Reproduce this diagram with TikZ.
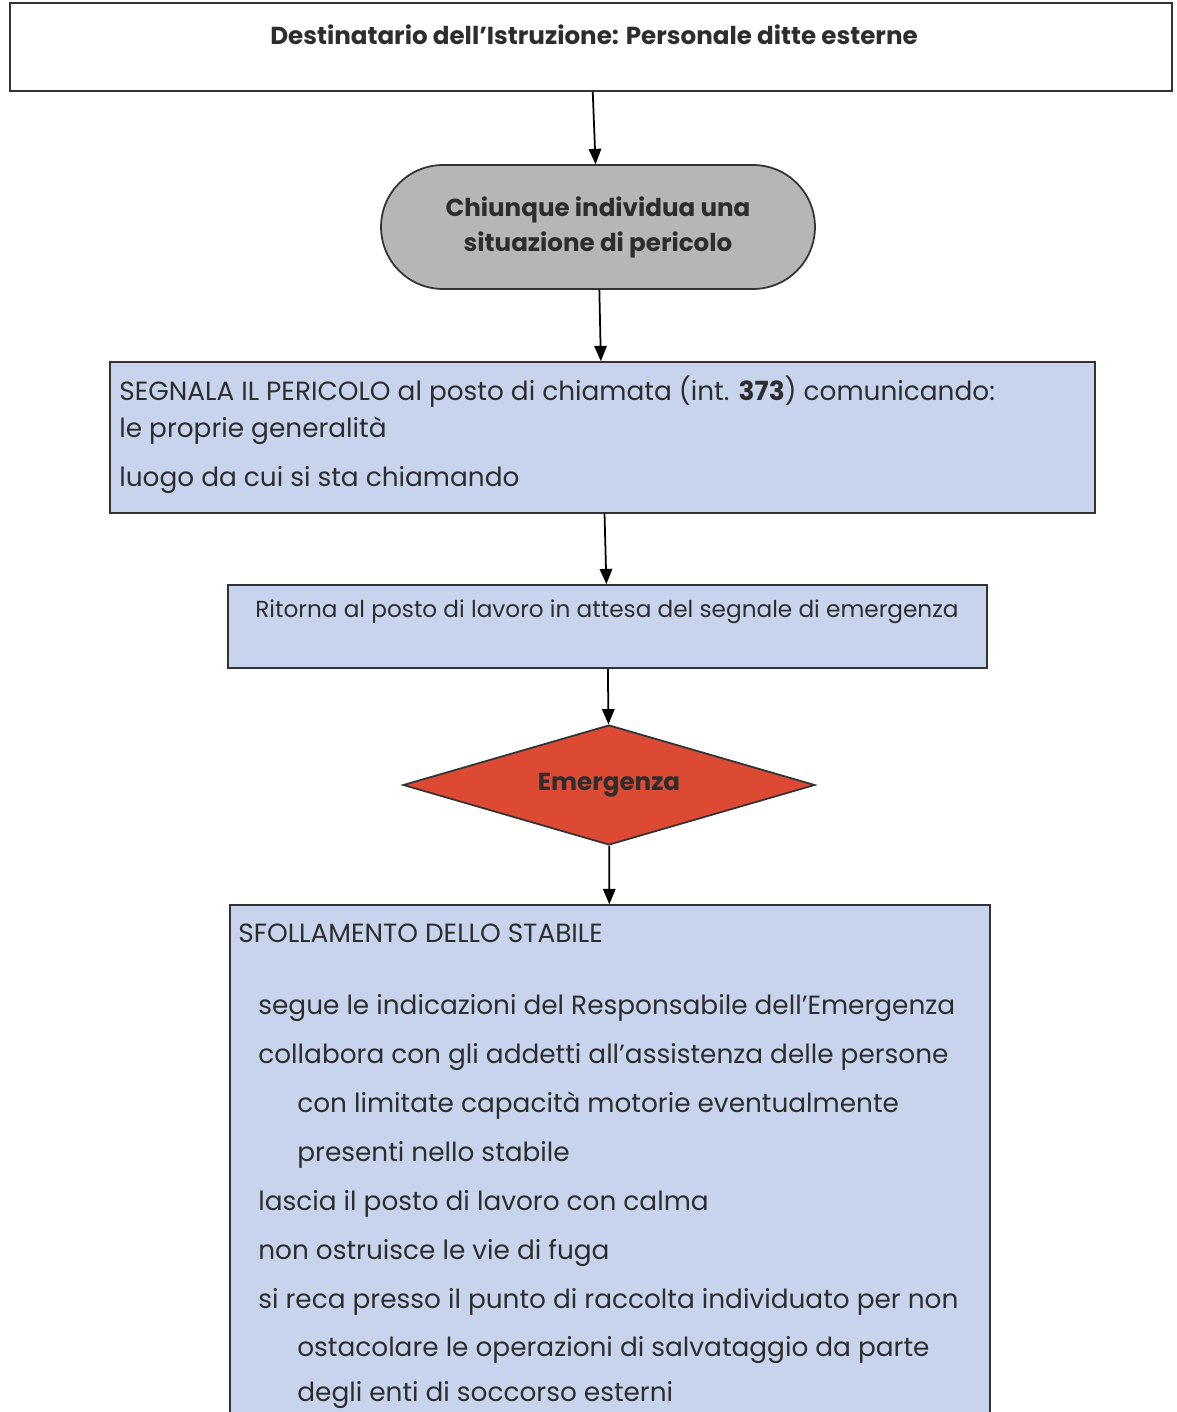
\documentclass[tikz,border=0pt]{standalone}
\usepackage{fontspec}
\setmainfont{Poppins}
\usetikzlibrary{arrows,shapes.geometric}
\definecolor{boxblue}{RGB}{200,212,238}
\definecolor{pillgray}{RGB}{182,182,182}
\definecolor{rombored}{RGB}{220,74,52}
\definecolor{txtgray}{RGB}{45,45,45}

\begin{document}
\begin{tikzpicture}[x=0.02cm, y=-0.02cm, >=triangle 45,
	box/.style={draw=black!80, line width=1pt, inner sep=0pt},
	txt/.style={anchor=base west, inner sep=0pt, text=txtgray, font=\fontsize{15}{17}\selectfont},
	bold/.style={text=txtgray, font=\bfseries\fontsize{14}{20}\selectfont, align=center}]
	\useasboundingbox (0,0) rectangle (1176,1412);

	\node[box, fill=white, minimum width=23.24cm, minimum height=1.76cm] (dest) at (591, 47) {};
	\node[bold] (tit) at (594, 35) {Destinatario dell'Istruzione: Personale ditte esterne};
	\node[box, fill=pillgray, rounded corners=1.24cm, minimum width=8.68cm, minimum height=2.48cm, bold] (chi) at (598, 227) {Chiunque individua una\\situazione di pericolo};
	\node[box, fill=boxblue, minimum width=19.7cm, minimum height=3.02cm] (segn) at (602.5, 437.5) {};
	\node[box, fill=boxblue, minimum width=15.18cm, minimum height=1.66cm] (rit) at (607.5, 626.5) {};
	\node[box, diamond, aspect=3.43, fill=rombored, minimum width=8.24cm, minimum height=2.4cm, bold] (emer) at (609, 785) {Emergenza};
	\node[box, fill=boxblue, minimum width=15.2cm, minimum height=10.4cm] (sfol) at (610, 1165) {};

	% testo dei riquadri
	\node[txt] (s1) at (119, 400) {SEGNALA IL PERICOLO al posto di chiamata (int. \textbf{373}) comunicando:};
	\node[txt] (s2) at (119, 437) {le proprie generalità};
	\node[txt] (s3) at (119, 486) {luogo da cui si sta chiamando};

	\node[txt, font=\fontsize{13.2}{16}\selectfont] (r1) at (255, 617) {Ritorna al posto di lavoro in attesa del segnale di emergenza};

	\node[txt] (f0) at (238, 942) {SFOLLAMENTO DELLO STABILE};
	\node[txt] (f1) at (258, 1014) {segue le indicazioni del Responsabile dell'Emergenza};
	\node[txt] (f2) at (258, 1063) {collabora con gli addetti all'assistenza delle persone};
	\node[txt] (f3) at (297, 1112) {con limitate capacità motorie eventualmente};
	\node[txt] (f4) at (297, 1161) {presenti nello stabile};
	\node[txt] (f5) at (258, 1210) {lascia il posto di lavoro con calma};
	\node[txt] (f6) at (258, 1259) {non ostruisce le vie di fuga};
	\node[txt] (f7) at (258, 1308) {si reca presso il punto di raccolta individuato per non};
	\node[txt] (f8) at (297, 1356) {ostacolare le operazioni di salvataggio da parte};
	\node[txt] (f9) at (297, 1401) {degli enti di soccorso esterni};

	\path[->, line width=1pt] (dest) edge node {} (chi);
	\path[->, line width=1pt] (chi) edge node {} (segn);
	\path[->, line width=1pt] (segn) edge node {} (rit);
	\path[->, line width=1pt] (rit) edge node {} (emer);
	\path[->, line width=1pt] (emer) edge node {} (sfol);
\end{tikzpicture}
\end{document}
